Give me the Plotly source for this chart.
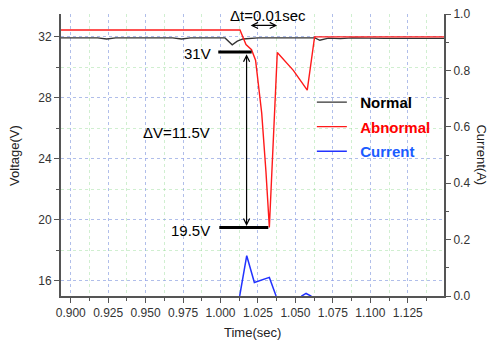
import plotly.graph_objects as go

# ---- data ----
time_normal = [0.8935, 0.918, 0.924, 0.930, 0.968, 0.974, 0.980, 1.0030, 1.0078, 1.0112,
               1.0150, 1.0250, 1.0630, 1.0663, 1.0720, 1.0800, 1.0880, 1.1010, 1.1100, 1.1492]
voltage_normal = [31.93, 31.93, 31.86, 31.93, 31.93, 31.86, 31.93, 31.93, 31.48, 31.72,
                  31.86, 31.93, 31.93, 31.78, 31.92, 31.88, 31.93, 31.89, 31.90, 31.90]

time_abnormal = [0.8935, 1.0130, 1.0170, 1.0207, 1.0234, 1.0275, 1.0303, 1.0326,
                 1.0379, 1.0486, 1.0579, 1.0628, 1.1492]
voltage_abnormal = [32.45, 32.45, 31.50, 31.16, 30.47, 27.00, 23.20, 19.50,
                    30.97, 29.80, 28.50, 32.00, 32.00]

time_current = [0.8935, 1.0120, 1.0128, 1.0175, 1.0226, 1.0326, 1.0371, 1.0390,
                1.0525, 1.0542, 1.0571, 1.0604, 1.0620, 1.1492]
current = [-0.02, -0.02, 0.0, 0.143, 0.048, 0.066, 0.0, -0.02,
           -0.02, 0.0, 0.009, 0.0, -0.02, -0.02]

x_ticks = [0.900, 0.925, 0.950, 0.975, 1.000, 1.025, 1.050, 1.075, 1.100, 1.125]
v_ticks = [16, 20, 24, 28, 32]
a_ticks = [0.0, 0.2, 0.4, 0.6, 0.8, 1.0]

# annotation levels
v_high, v_low = 31.0, 19.5
delta_v_x = 1.0174
line_high_x = [0.9985, 1.0208]
line_low_x = [0.9992, 1.0319]
dt_x = [1.0191, 1.0378]
dt_y = 32.75

FONT = "Liberation Sans, Arial, sans-serif"
BLUE_GRID = "rgba(150,150,255,0.55)"
GREEN_GRID = "rgba(150,220,150,0.45)"
AXIS = "#555555"

fig = go.Figure()
fig.add_trace(go.Scatter(x=time_normal, y=voltage_normal, mode="lines",
                         line=dict(color="#333333", width=1.3),
                         name="&nbsp;&nbsp;<b>Normal</b>", legendgroup="a"))
fig.add_trace(go.Scatter(x=time_abnormal, y=voltage_abnormal, mode="lines",
                         line=dict(color="#ff1a1a", width=1.4),
                         name="&nbsp;&nbsp;<b><span style='color:#ff0000'>Abnormal</span></b>", legendgroup="b"))
fig.add_trace(go.Scatter(x=time_current, y=current, mode="lines", yaxis="y2",
                         line=dict(color="#2233ff", width=1.5),
                         name="&nbsp;&nbsp;<b><span style='color:#1a5cff'>Current</span></b>", legendgroup="c"))

fig.update_layout(
    width=492, height=341, autosize=False,
    margin=dict(l=61, r=48, t=14, b=45, pad=0, autoexpand=False),
    paper_bgcolor="white", plot_bgcolor="white",
    font=dict(family=FONT, size=12, color="#333333"),
    showlegend=True,
    legend=dict(x=0.655, y=0.745, xanchor="left", yanchor="top",
                bgcolor="rgba(0,0,0,0)", font=dict(size=15, color="black", family=FONT),
                tracegroupgap=2, itemwidth=30),
    xaxis=dict(range=[0.8935, 1.1492], tickvals=x_ticks, tickformat=".3f", automargin=False,
               showline=True, linecolor=AXIS, linewidth=2,
               ticks="outside", ticklen=5, tickcolor=AXIS, tickwidth=1,
               showgrid=True, gridcolor=BLUE_GRID, griddash="dot", gridwidth=1,
               minor=dict(dtick=0.0125, tick0=0.9, ticks="outside", ticklen=3, tickcolor=AXIS,
                          showgrid=True, gridcolor=GREEN_GRID, griddash="dot"),
               zeroline=False, tickfont=dict(size=12, color="#333333")),
    yaxis=dict(range=[15, 33.5], tickvals=v_ticks, automargin=False,
               showline=True, linecolor=AXIS, linewidth=2,
               ticks="outside", ticklen=5, tickcolor=AXIS, tickwidth=1,
               showgrid=True, gridcolor=BLUE_GRID, griddash="dot", gridwidth=1,
               minor=dict(dtick=2, tick0=0, ticks="outside", ticklen=3, tickcolor=AXIS,
                          showgrid=True, gridcolor=GREEN_GRID, griddash="dot"),
               zeroline=False, tickfont=dict(size=12, color="#333333")),
    yaxis2=dict(range=[0, 1.0], tickvals=a_ticks, tickformat=".1f", automargin=False,
                overlaying="y", side="right",
                showline=True, linecolor=AXIS, linewidth=2,
                ticks="outside", ticklen=5, tickcolor=AXIS, tickwidth=1,
                showgrid=False, zeroline=False,
                minor=dict(dtick=0.1, tick0=0, ticks="outside", ticklen=3, tickcolor=AXIS),
                tickfont=dict(size=12, color="#333333")),
)

# axis titles
fig.add_annotation(text="Time(sec)", xref="paper", yref="paper", x=0.5, y=-0.128,
                   xanchor="center", yanchor="middle", showarrow=False,
                   font=dict(size=13, color="#222222"))
fig.add_annotation(text="Voltage(V)", xref="paper", yref="paper", x=-0.123, y=0.5,
                   xanchor="center", yanchor="middle", showarrow=False, textangle=-90,
                   font=dict(size=13, color="#222222"))
fig.add_annotation(text="Current(A)", xref="paper", yref="paper", x=1.098, y=0.5,
                   xanchor="center", yanchor="middle", showarrow=False, textangle=90,
                   font=dict(size=13, color="#222222"))

# level bars
fig.add_shape(type="line", x0=line_high_x[0], x1=line_high_x[1], y0=v_high, y1=v_high,
              xref="x", yref="y", line=dict(color="black", width=3))
fig.add_shape(type="line", x0=line_low_x[0], x1=line_low_x[1], y0=v_low, y1=v_low,
              xref="x", yref="y", line=dict(color="black", width=3))

# vertical double arrow
fig.add_annotation(x=delta_v_x, y=v_low + 0.1, ax=delta_v_x, ay=v_high - 0.05,
                   xref="x", yref="y", axref="x", ayref="y", showarrow=True,
                   arrowhead=5, startarrowhead=5, arrowside="end+start",
                   arrowsize=1, startarrowsize=1, arrowwidth=1.2, arrowcolor="black", text="")
# horizontal double arrow
fig.add_annotation(x=dt_x[1], y=dt_y, ax=dt_x[0], ay=dt_y,
                   xref="x", yref="y", axref="x", ayref="y", showarrow=True,
                   arrowhead=5, startarrowhead=5, arrowside="end+start",
                   arrowsize=1, startarrowsize=1, arrowwidth=1.2, arrowcolor="black", text="")

# text labels
fig.add_annotation(text="31V", x=0.9952, y=30.91, xref="x", yref="y", xanchor="right",
                   yanchor="middle", showarrow=False, font=dict(size=15, color="black"))
fig.add_annotation(text="19.5V", x=0.9945, y=19.28, xref="x", yref="y", xanchor="right",
                   yanchor="middle", showarrow=False, font=dict(size=15, color="black"))
fig.add_annotation(text="ΔV=11.5V", x=0.9708, y=25.71, xref="x", yref="y", xanchor="center",
                   yanchor="middle", showarrow=False, font=dict(size=15, color="black"))
fig.add_annotation(text="Δt=0.01sec", x=1.0319, y=33.43, xref="x", yref="y", xanchor="center",
                   yanchor="middle", showarrow=False, font=dict(size=15, color="black"))

fig.write_html("out.html", config={"displayModeBar": False},
               post_script="document.body.style.margin='0';")
